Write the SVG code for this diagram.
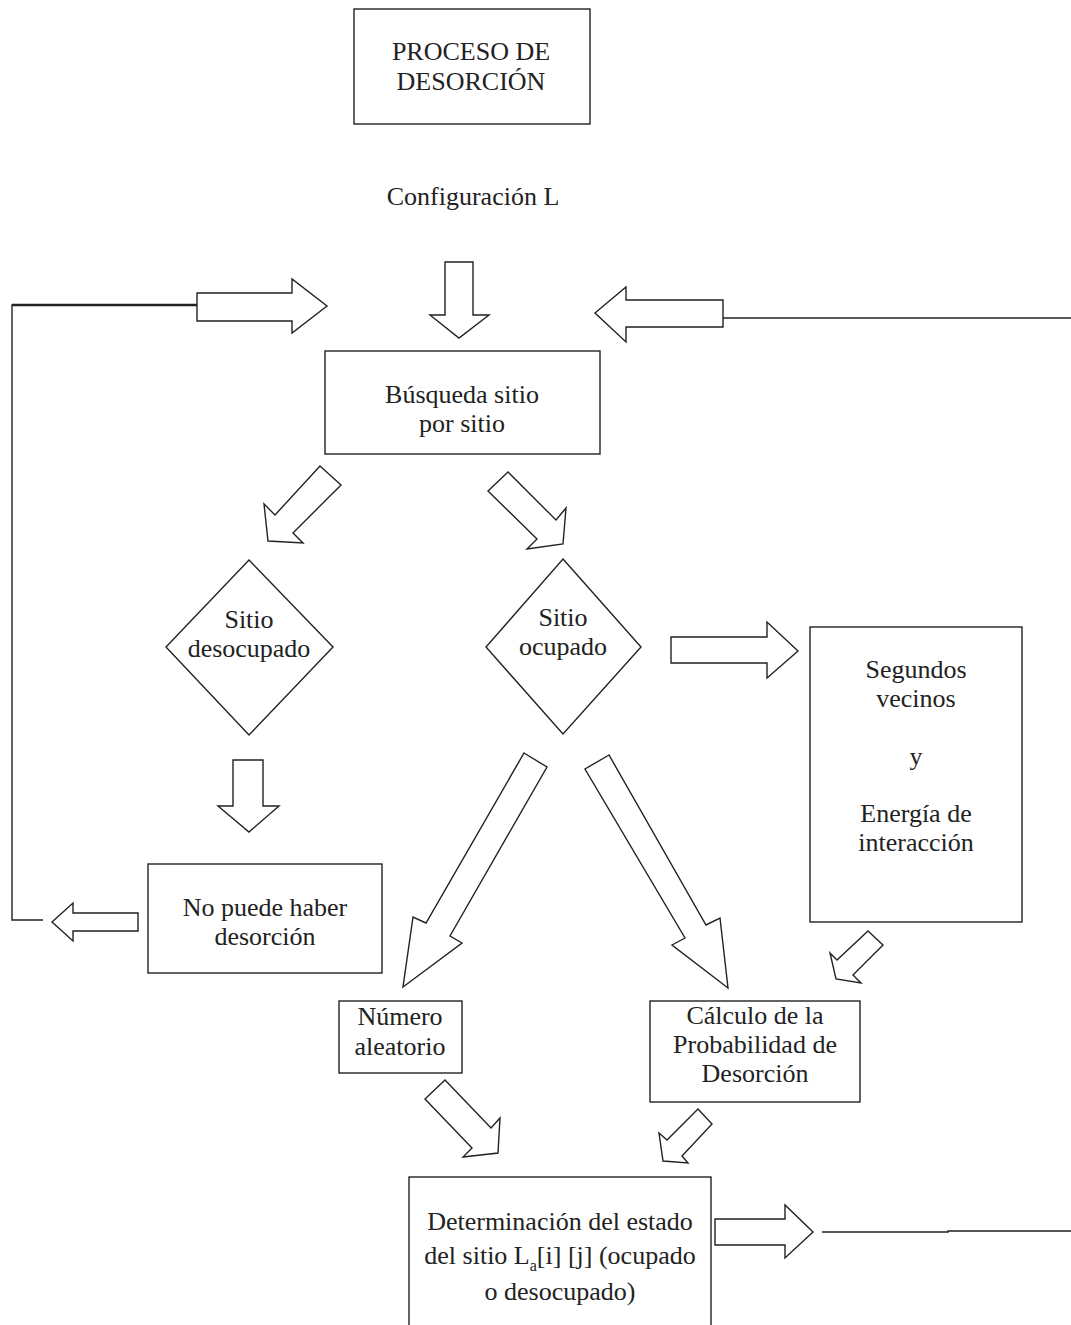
<svg xmlns="http://www.w3.org/2000/svg" width="1071" height="1325" viewBox="0 0 1071 1325">
<style>
.box{fill:#fff;stroke:#222;stroke-width:1.4}
.arr{fill:#fff;stroke:#222;stroke-width:1.4;stroke-linejoin:miter}
.ln{fill:none;stroke:#222;stroke-width:1.4}
text{font-family:"Liberation Serif","DejaVu Serif",serif;font-size:26px;fill:#222;text-anchor:middle}
</style>
<rect width="1071" height="1325" fill="#fff"/>
<g id="connectors">
<polyline class="ln" points="197,305 12,305 12,920 43,920"/>
<line class="ln" x1="12" y1="305" x2="197" y2="305" style="stroke-width:2.6"/>
<polyline class="ln" points="723,318 1071,318"/>
<polyline class="ln" points="822,1232 948,1232 948,1231 1071,1231"/>
<polygon class="arr" points="445,262 473,262 473,315 489,315 459,338 430,315 445,315"/>
<polygon class="arr" points="197,293 292,293 292,279 327,306 292,333 292,321 197,321"/>
<polygon class="arr" points="723,300 626,300 626,287 595,313 626,342 626,327 723,327"/>
<polygon class="arr" points="320,466 341,485 293,533 303,543 268,541 264,504 275,515"/>
<polygon class="arr" points="508,472 488,491 537,539 527,549 563,544 566,508 556,520"/>
<polygon class="arr" points="671,637 767,637 767,622 798,651 767,678 767,663 671,663"/>
<polygon class="arr" points="233,760 263,760 263,806 279,806 249,832 218,806 233,806"/>
<polygon class="arr" points="138,913 73,913 73,903 52,922 73,941 73,931 138,931"/>
<polygon class="arr" points="524,753 547,767 450,936 462,943 403,987 413,917 426,923"/>
<polygon class="arr" points="609,755 585,769 685,938 672,945 728,988 720,918 706,925"/>
<polygon class="arr" points="868,931 883,945 853,975 861,983 836,979 830,953 837,960"/>
<polygon class="arr" points="445,1080 425,1099 472,1148 463,1157 498,1153 500,1118 491,1128"/>
<polygon class="arr" points="698,1109 712,1124 682,1156 688,1163 663,1161 659,1133 667,1140"/>
<polygon class="arr" points="715,1219 785,1219 785,1205 813,1232 785,1258 785,1245 715,1245"/>
</g>
<g id="proceso">
<rect class="box" x="354" y="9" width="236" height="115"/>
<text x="471" y="60">PROCESO DE</text>
<text x="471" y="90">DESORCIÓN</text>
</g>
<g id="configuracion">
<text x="473" y="205">Configuración L</text>
</g>
<g id="busqueda">
<rect class="box" x="325" y="351" width="275" height="103"/>
<text x="462" y="403">Búsqueda sitio</text>
<text x="462" y="432">por sitio</text>
</g>
<g id="desocupado">
<polygon class="box" points="249,560 333,647 249,735 166,647"/>
<text x="249" y="628">Sitio</text>
<text x="249" y="657">desocupado</text>
</g>
<g id="ocupado">
<polygon class="box" points="563,559 641,647 563,734 486,647"/>
<text x="563" y="626">Sitio</text>
<text x="563" y="655">ocupado</text>
</g>
<g id="segundos">
<rect class="box" x="810" y="627" width="212" height="295"/>
<text x="916" y="678">Segundos</text>
<text x="916" y="707">vecinos</text>
<text x="916" y="765">y</text>
<text x="916" y="822">Energía de</text>
<text x="916" y="851">interacción</text>
</g>
<g id="nopuede">
<rect class="box" x="148" y="864" width="234" height="109"/>
<text x="265" y="916">No puede haber</text>
<text x="265" y="945">desorción</text>
</g>
<g id="numero">
<rect class="box" x="339" y="1001" width="123" height="72"/>
<text x="400" y="1025">Número</text>
<text x="400" y="1055">aleatorio</text>
</g>
<g id="calculo">
<rect class="box" x="650" y="1001" width="210" height="101"/>
<text x="755" y="1024">Cálculo de la</text>
<text x="755" y="1053">Probabilidad de</text>
<text x="755" y="1082">Desorción</text>
</g>
<g id="determinacion">
<rect class="box" x="409" y="1177" width="302" height="160"/>
<text x="560" y="1230">Determinación del estado</text>
<text x="560" y="1264">del sitio L<tspan font-size="16" dy="7">a</tspan><tspan dy="-7">[i] [j] (ocupado</tspan></text>
<text x="560" y="1300">o desocupado)</text>
</g>
</svg>
